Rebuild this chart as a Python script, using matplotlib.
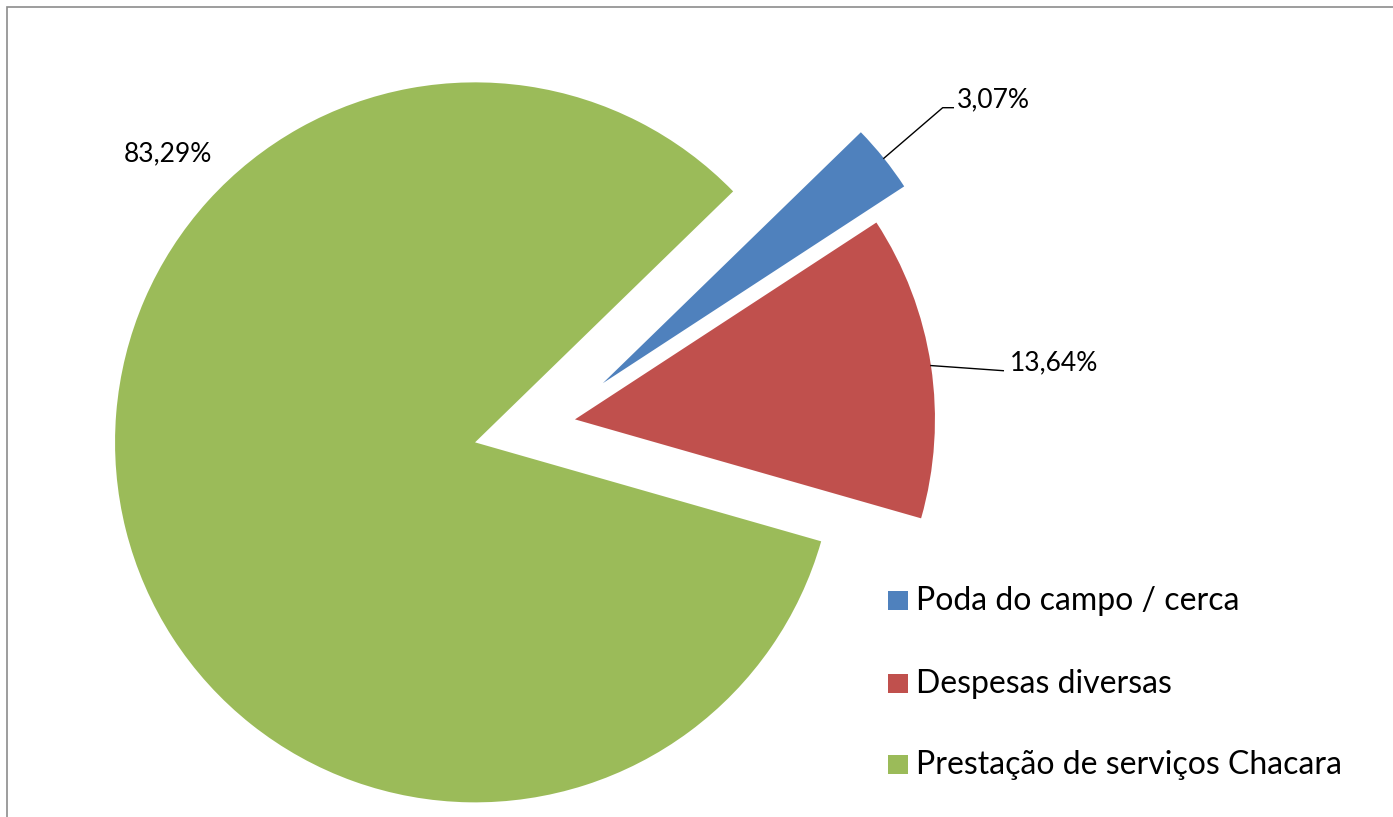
import math
import matplotlib
matplotlib.use("Agg")
import matplotlib.pyplot as plt
from matplotlib.patches import Rectangle

plt.rcParams['font.family'] = ['Lato', 'DejaVu Sans']

# dados do gráfico
categorias = ['Poda do campo / cerca', 'Despesas diversas', 'Prestação de serviços Chacara']
valores = [3.07, 13.64, 83.29]
rotulos = ['3,07%', '13,64%', '83,29%']
cores = ['#4F81BD', '#C0504D', '#9BBB59']
destaque = [0.175, 0.06, 0.225]

W, H = 1393, 817
R = 360.0            # raio da pizza em pixels
CX, CY = 553.6, 422.6  # centro da pizza (pixels, y para baixo)


def px(x, y):
    # pixel da imagem -> coordenadas dos dados (raio = 1)
    return (x - CX) / R, (CY - y) / R


fig = plt.figure(figsize=(W / 100, H / 100), dpi=100)
ax = fig.add_axes([0, 0, 1, 1])
ax.axis('off')

wedges, _ = ax.pie(valores, colors=cores, explode=destaque, startangle=44.2,
                   counterclock=False, radius=1,
                   wedgeprops=dict(linewidth=0))
ax.set_xlim(-CX / R, (W - CX) / R)
ax.set_ylim(-(H - CY) / R, CY / R)
ax.set_aspect('auto')


def meio_arco(w):
    t = math.radians((w.theta1 + w.theta2) / 2)
    return w.center[0] + w.r * math.cos(t), w.center[1] + w.r * math.sin(t)


# rótulo 3,07% com linha de chamada
x0, y0 = meio_arco(wedges[0])
x1, y1 = px(942.7, 107.7)
x2, y2 = px(953.3, 107.7)
ax.plot([x0, x1, x2], [y0, y1, y2], color='black', linewidth=1.0)
tx, ty = px(957, 100)
ax.text(tx, ty, rotulos[0], fontsize=19, ha='left', va='center')

# rótulo 13,64%
x0, y0 = meio_arco(wedges[1])
x1, y1 = px(1003.3, 370.7)
ax.plot([x0, x1], [y0, y1], color='black', linewidth=1.0)
tx, ty = px(1009.5, 362.5)
ax.text(tx, ty, rotulos[1], fontsize=19, ha='left', va='center')

# rótulo 83,29%
tx, ty = px(168, 154)
ax.text(tx, ty, rotulos[2], fontsize=19, ha='center', va='center')

# legenda manual
linhas_y = [600.5, 683, 764.5]
for cat, cor, ly in zip(categorias, cores, linhas_y):
    qx, qy = px(888, ly + 9.5)
    ax.add_patch(Rectangle((qx, qy), 20 / R, 19 / R, facecolor=cor,
                           edgecolor='none', clip_on=False))
    tx, ty = px(916, ly + 1)
    ax.text(tx, ty, cat, fontsize=23, ha='left', va='center')

# borda cinza (cortada)
fig.add_artist(Rectangle((7 / W, -0.05), 1.2, 1.05 - 7 / H,
                         transform=fig.transFigure, facecolor='none',
                         edgecolor='#8C8C8C', linewidth=1.2))

fig.savefig('out.png', dpi=100)
